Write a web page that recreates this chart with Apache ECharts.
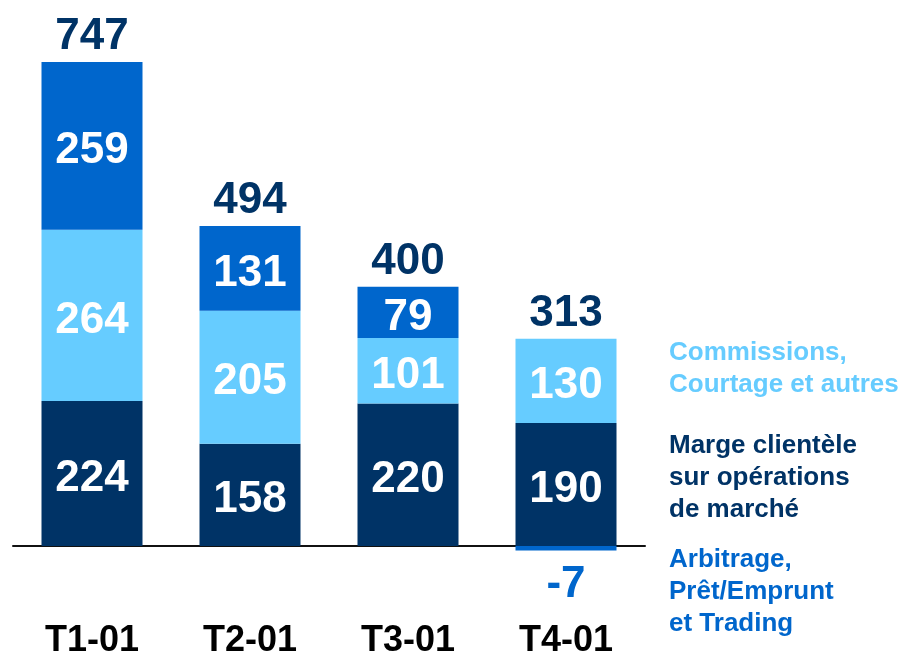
<!DOCTYPE html>
<html>
<head>
<meta charset="utf-8">
<script src="https://cdn.jsdelivr.net/npm/echarts@6/dist/echarts.min.js"></script>
<style>
  html, body { margin: 0; padding: 0; background: #fff; }
  #chart { width: 902px; height: 655px; }
</style>
</head>
<body>
<div id="chart"></div>
<script>
var quarters = ['T1-01', 'T2-01', 'T3-01', 'T4-01']
var marge = [224, 158, 220, 190]
var commissions = [264, 205, 101, 130]
var arbitrage = [259, 131, 79, -7]

var navy = '#003366'
var light = '#66CCFF'
var mid = '#0066CC'
var font = '"Liberation Sans", Arial, sans-serif'

// totals on top of each bar
var totals = quarters.map(function (q, i) { return marge[i] + commissions[i] + arbitrage[i] })
var tops = quarters.map(function (q, i) {
  return [marge[i], commissions[i], arbitrage[i]].reduce(function (s, v) { return v > 0 ? s + v : s }, 0)
})

function barData (arr) {
  return arr.map(function (v) {
    if (v < 0) {
      return { value: v, label: { position: 'bottom', color: mid, distance: 12, offset: [0, 0] } }
    }
    return v
  })
}

var inLabel = {
  show: true,
  position: 'inside',
  offset: [0, 5],
  color: '#fff',
  fontSize: 44,
  fontWeight: 'bold',
  fontFamily: font
}

var chart = echarts.init(document.getElementById('chart'))
chart.setOption({
  animation: false,
  grid: { left: 13, right: 257, top: 27.7, bottom: 44.2, outerBoundsMode: 'none', containLabel: false },
  xAxis: {
    type: 'category',
    data: quarters,
    axisTick: { show: false },
    axisLine: { onZero: true, lineStyle: { color: '#111', width: 2 } },
    axisLabel: { color: '#000', fontSize: 36, fontWeight: 'bold', fontFamily: font, margin: 12 }
  },
  yAxis: {
    type: 'value',
    min: -100,
    max: 800,
    show: false,
    splitLine: { show: false }
  },
  series: [
    { name: 'Marge', type: 'bar', stack: 'a', barWidth: 101, data: barData(marge), itemStyle: { color: navy }, label: inLabel },
    { name: 'Commissions', type: 'bar', stack: 'a', data: barData(commissions), itemStyle: { color: light }, label: inLabel },
    { name: 'Arbitrage', type: 'bar', stack: 'a', data: barData(arbitrage), itemStyle: { color: mid }, label: inLabel },
    {
      name: 'Total',
      type: 'scatter',
      symbolSize: 0,
      data: tops,
      itemStyle: { opacity: 1 },
      label: {
        show: true,
        position: 'top',
        distance: 3,
        color: navy,
        fontSize: 44,
        fontWeight: 'bold',
        fontFamily: font,
        formatter: function (p) { return totals[p.dataIndex] }
      }
    }
  ],
  graphic: [
    { type: 'text', left: 669, top: 337, style: { text: 'Commissions,\nCourtage et autres', fill: light, font: 'bold 26px ' + font, lineHeight: 32 } },
    { type: 'text', left: 669, top: 430, style: { text: 'Marge clientèle\nsur opérations\nde marché', fill: navy, font: 'bold 26px ' + font, lineHeight: 32 } },
    { type: 'text', left: 669, top: 544, style: { text: 'Arbitrage,\nPrêt/Emprunt\net Trading', fill: mid, font: 'bold 26px ' + font, lineHeight: 32 } }
  ]
})
</script>
</body>
</html>
